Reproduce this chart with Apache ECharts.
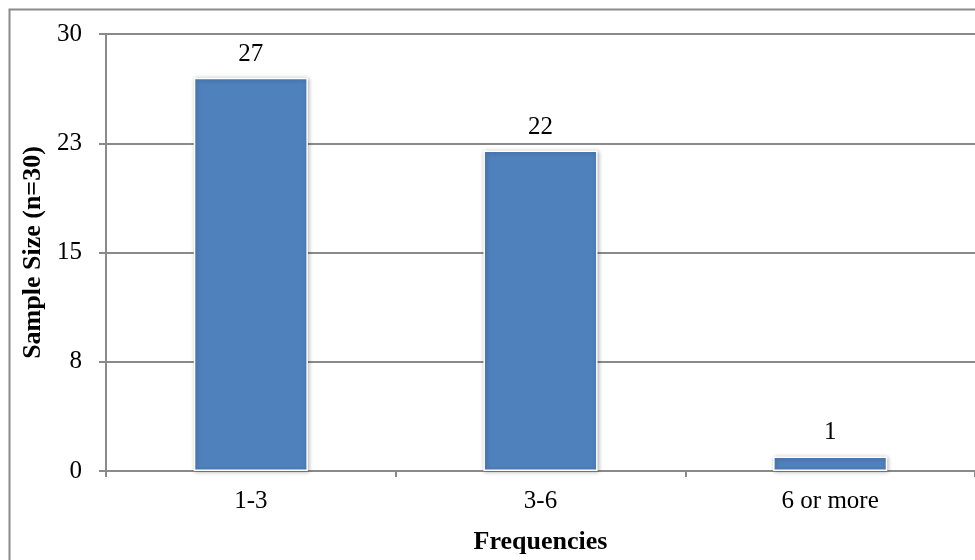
<!DOCTYPE html>
<html>
<head>
<meta charset="utf-8">
<script src="https://cdn.jsdelivr.net/npm/echarts@6/dist/echarts.min.js"></script>
<style>
  html, body { margin: 0; padding: 0; background: #ffffff; }
  #chart { width: 975px; height: 560px; }
</style>
</head>
<body>
<div id="chart"></div>
<script>
// Frequency groups and how many respondents fall in each
const categories = ['1-3', '3-6', '6 or more'];
const sampleCounts = [27, 22, 1];

// Value axis: 0..30 in steps of 7.5, shown rounded
const yMax = 30;
const yStep = 7.5;
const yTickLabels = ['0', '8', '15', '23', '30'];

const xAxisTitle = 'Frequencies';
const yAxisTitle = 'Sample Size (n=30)';

const lineGray = '#8a8a8a';
const serif = '"Liberation Serif", "Times New Roman", serif';

const chart = echarts.init(document.getElementById('chart'), null, { renderer: 'canvas' });

chart.setOption({
  animation: false,
  backgroundColor: '#ffffff',
  graphic: [{
    type: 'rect',
    left: 7,
    top: 7,
    shape: { x: 0, y: 0, width: 990, height: 580 },
    style: { fill: 'none', stroke: lineGray, lineWidth: 2 },
    silent: true,
    z: -10
  }],
  grid: {
    left: 106,
    top: 34,
    right: -7,
    bottom: 87.5,
    containLabel: false
  },
  xAxis: {
    type: 'category',
    data: categories,
    name: xAxisTitle,
    nameLocation: 'middle',
    nameGap: 58,
    nameTextStyle: { fontFamily: serif, fontWeight: 'bold', fontSize: 26, color: '#000' },
    axisLine: { show: true, lineStyle: { color: lineGray, width: 2 } },
    axisTick: { show: true, length: 6, alignWithLabel: false, lineStyle: { color: lineGray, width: 2 } },
    axisLabel: { fontFamily: serif, fontSize: 25, color: '#000', margin: 18 },
    splitLine: { show: false }
  },
  yAxis: {
    type: 'value',
    min: 0,
    max: yMax,
    interval: yStep,
    name: yAxisTitle,
    nameLocation: 'middle',
    nameGap: 58,
    nameRotate: 90,
    nameTextStyle: { fontFamily: serif, fontWeight: 'bold', fontSize: 26, color: '#000' },
    axisLine: { show: true, lineStyle: { color: lineGray, width: 2 } },
    axisTick: { show: true, length: 7, lineStyle: { color: lineGray, width: 2 } },
    axisLabel: {
      fontFamily: serif, fontSize: 25, color: '#000', margin: 24,
      formatter: v => yTickLabels[Math.round(v / yStep)]
    },
    splitLine: { show: true, lineStyle: { color: lineGray, width: 2 } }
  },
  series: [{
    type: 'bar',
    data: sampleCounts,
    barWidth: '39.4%',
    itemStyle: {
      color: '#4F81BD',
      borderColor: '#ffffff',
      borderWidth: 1.5,
      shadowColor: 'rgba(0,0,0,0.3)',
      shadowBlur: 4,
      shadowOffsetX: 1,
      shadowOffsetY: 1
    },
    label: {
      show: true,
      position: 'top',
      distance: 11,
      fontFamily: serif,
      fontSize: 25,
      color: '#000'
    }
  }]
});
</script>
</body>
</html>
